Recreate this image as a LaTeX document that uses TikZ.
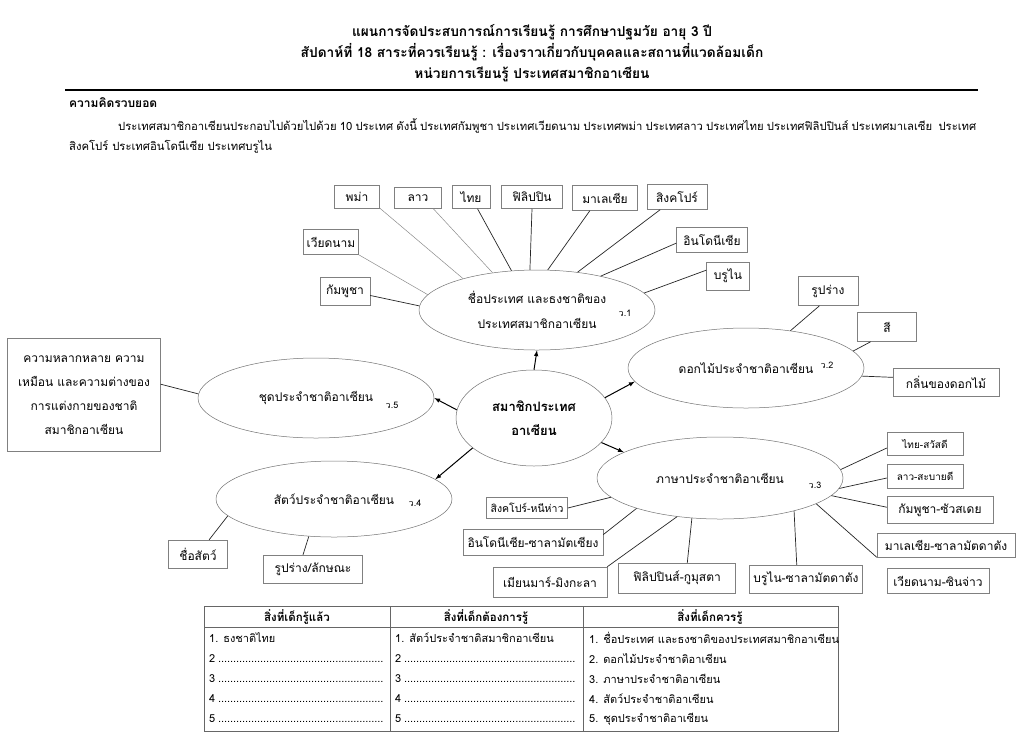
\documentclass[tikz,border=0pt]{standalone}
\usepackage{fontspec}
\setmainfont[Script=Thai]{Loma}
\usetikzlibrary{shapes.geometric}
\newcommand{\dotrow}[2]{\makebox[#1][l]{#2\leaders\hbox to 3pt{\hss.\hss}\hfill}}
\begin{document}
\begin{tikzpicture}[x=1pt,y=-1pt,
  topic/.style={ellipse,draw=black!55,line width=.5pt,minimum width=236pt,minimum height=80pt,inner sep=0pt,align=center,font=\fontsize{12}{25}\selectfont},
  core/.style={ellipse,draw=black!55,line width=.5pt,minimum width=156pt,minimum height=96pt,inner sep=0pt,align=center,font=\bfseries\fontsize{13}{24}\selectfont},
  item/.style={draw=black!50,line width=.5pt,inner sep=0pt,font=\fontsize{12}{14}\selectfont},
  tag/.style={inner sep=0pt,font=\fontsize{9}{10}\selectfont},
  spoke/.style={black!85,line width=.7pt},
  spokelight/.style={black!45,line width=.5pt},
  flow/.style={-latex,line width=1pt},
  grid/.style={black!60,line width=.6pt},
  cell/.style={anchor=west,inner sep=0pt,font=\fontsize{11}{13}\selectfont},
  head/.style={inner sep=0pt,font=\bfseries\fontsize{11.5}{13}\selectfont}]
\useasboundingbox[fill=white] (0,0) rectangle (1024,753);

\node[align=center,font=\bfseries\fontsize{13.7}{21}\selectfont] (title) at (532,53)
  {แผนการจัดประสบการณ์การเรียนรู้ การศึกษาปฐมวัย อายุ 3 ปี\\
   สัปดาห์ที่ 18 สาระที่ควรเรียนรู้ : เรื่องราวเกี่ยวกับบุคคลและสถานที่แวดล้อมเด็ก\\
   หน่วยการเรียนรู้ ประเทศสมาชิกอาเซียน};
\draw[line width=2pt] (65,90) -- (978,90);
\node[anchor=west,inner sep=0pt,font=\bfseries\fontsize{12}{14}\selectfont] (concept) at (69,103) {ความคิดรวบยอด};
\node[anchor=west,inner sep=0pt,font=\fontsize{11.3}{14}\selectfont] (para1) at (118,126)
  {\makebox[858pt][s]{ประเทศสมาชิกอาเซียนประกอบไปด้วยไปด้วย 10 ประเทศ ดังนี้ ประเทศกัมพูชา ประเทศเวียดนาม ประเทศพม่า ประเทศลาว ประเทศไทย ประเทศฟิลิปปินส์ ประเทศมาเลเซีย \ ประเทศ}};
\node[anchor=west,inner sep=0pt,font=\fontsize{11.3}{14}\selectfont] (para2) at (69,147)
  {สิงคโปร์ ประเทศอินโดนีเซีย ประเทศบรูไน};

\node[core] (core) at (534,418) {สมาชิกประเทศ\\อาเซียน};
\node[topic] (e1) at (537,310) {ชื่อประเทศ และธงชาติของ\\ประเทศสมาชิกอาเซียน};
\node[topic] (e2) at (746,368) {ดอกไม้ประจำชาติอาเซียน};
\node[topic,minimum width=246pt,minimum height=82pt] (e3) at (720,478) {ภาษาประจำชาติอาเซียน};
\node[topic,minimum height=76pt] (e4) at (334,499) {สัตว์ประจำชาติอาเซียน};
\node[topic] (e5) at (316,398) {ชุดประจำชาติอาเซียน};
\node[tag] (t1) at ([shift={(88,3)}]e1.center) {ว.1};
\node[tag] (t2) at ([shift={(81,-3)}]e2.center) {ว.2};
\node[tag] (t3) at ([shift={(95,7)}]e3.center) {ว.3};
\node[tag] (t4) at ([shift={(81,4)}]e4.center) {ว.4};
\node[tag] (t5) at ([shift={(76,7)}]e5.center) {ว.5};

\draw[flow] (core.north) -- (e1.south);
\draw[flow] (core.16) -- (e2.187);
\draw[flow] (core.-20) -- (e3.165);
\draw[flow] (core.-154) -- (e4.11);
\draw[flow] (core.174) -- (e5.0);

\node[item,minimum width=45pt,minimum height=23pt] (burma) at (357,197) {พม่า};
\node[item,minimum width=47pt,minimum height=21pt] (lao) at (418,198) {ลาว};
\node[item,minimum width=38pt,minimum height=23pt] (thai) at (471,197) {ไทย};
\node[item,minimum width=61pt,minimum height=23pt] (phil) at (532,197) {ฟิลิปปิน};
\node[item,minimum width=65pt,minimum height=25pt] (malay) at (605,198) {มาเลเซีย};
\node[item,minimum width=60pt,minimum height=25pt] (singa) at (677,197) {สิงคโปร์};
\node[item,minimum width=71pt,minimum height=25pt] (indo) at (712,240) {อินโดนีเซีย};
\node[item,minimum width=43pt,minimum height=28pt] (brunei) at (728,276) {บรูไน};
\node[item,minimum width=55pt,minimum height=25pt] (viet) at (331,242) {เวียดนาม};
\node[item,minimum width=50pt,minimum height=28pt] (cambo) at (345,291) {กัมพูชา};
\draw[spokelight] (viet.south east) -- (e1.172);
\draw[spokelight] (burma.-26) -- (e1.157);
\draw[spokelight] (lao.-35) -- (e1.140);
\draw[spoke] (thai.-61) -- (e1.123);
\draw[spoke] (phil.south) -- (e1.100);
\draw[spoke] (malay.-140) -- (e1.75);
\draw[spoke] (singa.-143) -- (e1.43);
\draw[spoke] (indo.-175) -- (e1.28);
\draw[spoke] (brunei.165) -- (e1.9);
\draw[spoke] (cambo.-10) -- (e1.178);

\node[item,minimum width=60pt,minimum height=29pt] (shape) at (828,291) {รูปร่าง};
\node[item,minimum width=59pt,minimum height=29pt] (colour) at (887,327) {สี};
\node[item,minimum width=106pt,minimum height=28pt] (scent) at (946,382) {กลิ่นของดอกไม้};
\draw[spoke] (shape.-120) -- (e2.40);
\draw[spoke] (colour.-138) -- (e2.9);
\draw[spoke] (scent.175) -- (e2.-4);

\node[item,minimum width=76pt,minimum height=23pt,font=\fontsize{10}{12}\selectfont] (thaihi) at (925,444) {ไทย-สวัสดี};
\node[item,minimum width=76pt,minimum height=24pt,font=\fontsize{10}{12}\selectfont] (laohi) at (925,476) {ลาว-สะบายดี};
\node[item,minimum width=106pt,minimum height=27pt] (cambohi) at (940,510) {กัมพูชา-ซัวสเดย};
\node[item,minimum width=138pt,minimum height=24pt] (malayhi) at (946,545) {มาเลเซีย-ซาลามัตดาตัง};
\node[item,minimum width=102pt,minimum height=25pt] (viethi) at (938,581) {เวียดนาม-ซินจ่าว};
\node[item,minimum width=113pt,minimum height=28pt] (bruneihi) at (806,579) {บรูไน-ซาลามัตดาตัง};
\node[item,minimum width=117pt,minimum height=30pt] (philhi) at (677,578) {ฟิลิปปินส์-กูมุสตา};
\node[item,minimum width=114pt,minimum height=30pt] (myanhi) at (550,582) {เมียนมาร์-มิงกะลา};
\node[item,minimum width=140pt,minimum height=26pt] (indohi) at (533,542) {อินโดนีเซีย-ซาลามัตเซียง};
\node[item,minimum width=81pt,minimum height=21pt,font=\fontsize{10.5}{12}\selectfont] (singahi) at (527,508) {สิงคโปร์-หนีห่าว};
\draw[spoke] (thaihi.-174) -- (e3.4);
\draw[spoke] (laohi.-177) -- (e3.-5);
\draw[spoke] (cambohi.177) -- (e3.-9);
\draw[spoke] (malayhi.south west) -- (e3.-15);
\draw[spoke] (bruneihi.123) -- (e3.-24);
\draw[spoke] (philhi.56) -- (e3.-125);
\draw[spoke] (myanhi.north east) -- (e3.-138);
\draw[spoke] (indohi.6) -- (e3.-160);
\draw[spoke] (singahi.east) -- (e3.-170);

\node[item,minimum width=59pt,minimum height=28pt] (aname) at (198,554) {ชื่อสัตว์};
\node[item,minimum width=99pt,minimum height=28pt] (aform) at (313,569) {รูปร่าง/ลักษณะ};
\draw[spoke] (aname.52) -- (e4.-171);
\draw[spoke] (aform.125) -- (e4.-124);

\node[item,minimum width=153pt,minimum height=113pt,align=center,font=\fontsize{12}{24}\selectfont] (outfit) at (84,395)
  {ความหลากหลาย ความ\\เหมือน และความต่างของ\\การแต่งกายของชาติ\\สมาชิกอาเซียน};
\draw[spoke] (outfit.8) -- (e5.178);

\draw[grid] (204,606) rectangle (838,731);
\draw[grid] (204,627) -- (838,627);
\draw[grid] (390,606) -- (390,731);
\draw[grid] (583,606) -- (583,731);
\node[head] (h1) at (297,617) {สิ่งที่เด็กรู้แล้ว};
\node[head] (h2) at (486,617) {สิ่งที่เด็กต้องการรู้};
\node[head] (h3) at (710,617) {สิ่งที่เด็กควรรู้};
\node[cell] (k1) at (209,638) {1. ธงชาติไทย};
\node[cell] (k2) at (209,659) {\dotrow{176pt}{2}};
\node[cell] (k3) at (209,679) {\dotrow{176pt}{3}};
\node[cell] (k4) at (209,699) {\dotrow{176pt}{4}};
\node[cell] (k5) at (209,719) {\dotrow{176pt}{5}};
\node[cell] (w1) at (395,638) {1. สัตว์ประจำชาติสมาชิกอาเซียน};
\node[cell] (w2) at (395,659) {\dotrow{182pt}{2}};
\node[cell] (w3) at (395,679) {\dotrow{182pt}{3}};
\node[cell] (w4) at (395,699) {\dotrow{182pt}{4}};
\node[cell] (w5) at (395,719) {\dotrow{182pt}{5}};
\node[cell] (s1) at (589,638) {1. ชื่อประเทศ และธงชาติของประเทศสมาชิกอาเซียน};
\node[cell] (s2) at (589,659) {2. ดอกไม้ประจำชาติอาเซียน};
\node[cell] (s3) at (589,679) {3. ภาษาประจำชาติอาเซียน};
\node[cell] (s4) at (589,699) {4. สัตว์ประจำชาติอาเซียน};
\node[cell] (s5) at (589,719) {5. ชุดประจำชาติอาเซียน};
\end{tikzpicture}
\end{document}
